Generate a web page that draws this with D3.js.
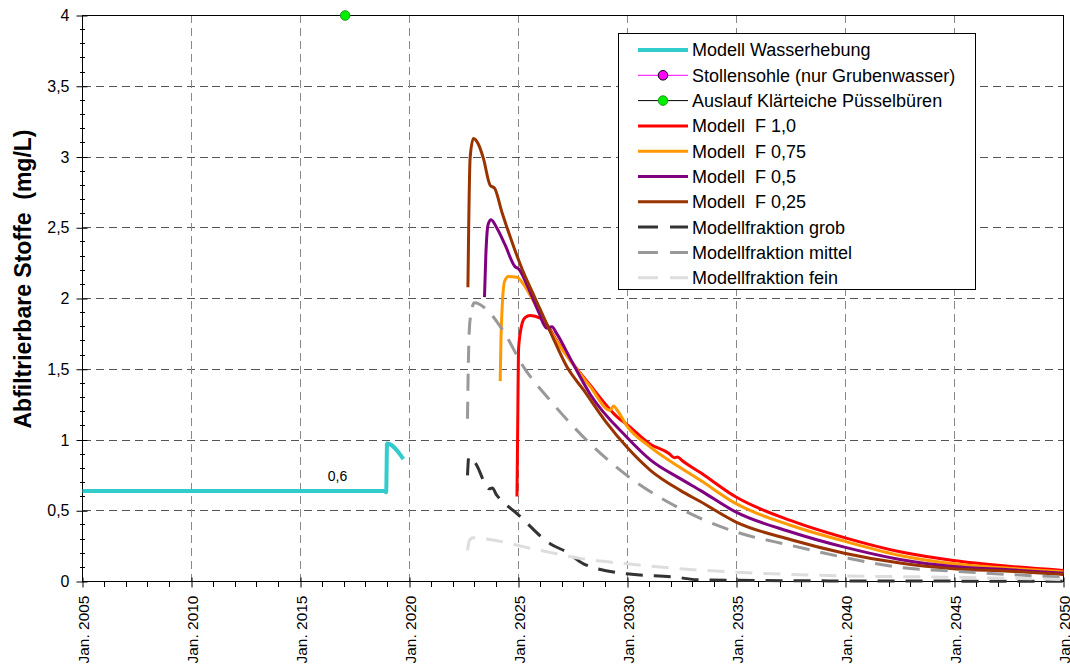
<!DOCTYPE html>
<html>
<head>
<meta charset="utf-8">
<script src="https://cdn.jsdelivr.net/npm/d3@7/dist/d3.min.js"></script>
<style>
  html, body { margin: 0; padding: 0; background: #fff; }
  svg { display: block; font-family: Arial, "Liberation Sans", sans-serif; }
</style>
</head>
<body>
<svg id="chart" width="1070" height="668"></svg>
<script>
// ---- data: [year, mg/L] ----
const wasserhebung = [[2005, 0.64], [2018.85, 0.64], [2018.93, 0.63], [2018.97, 0.975], [2019.72, 0.865]];
const stollensohle = [];
const auslauf = [[2017.05, 4.0]];

const modellF100 = [[2024.93, 0.60], [2024.97, 1.2], [2025.0, 1.64], [2025.16, 1.82], [2025.3, 1.865], [2025.54, 1.88],
  [2026.0, 1.86], [2026.38, 1.80], [2026.6, 1.74], [2027.37, 1.565], [2028.3, 1.385], [2029.2, 1.215], [2029.35, 1.19],
  [2029.55, 1.16], [2029.97, 1.11], [2031.05, 0.97], [2031.9, 0.905], [2032.15, 0.875], [2032.3, 0.88], [2032.5, 0.855],
  [2033.34, 0.77], [2034.98, 0.597], [2037.5, 0.43], [2039.95, 0.31], [2042.5, 0.21], [2044.95, 0.149], [2047.5, 0.108], [2050, 0.078]];

const modellF075 = [[2024.16, 1.416], [2024.2, 1.74], [2024.36, 2.12], [2024.54, 2.155], [2024.93, 2.15], [2025.23, 2.10],
  [2025.69, 1.98], [2026.22, 1.835], [2026.53, 1.75], [2027.37, 1.565], [2028.3, 1.375], [2029.2, 1.21], [2029.36, 1.24],
  [2029.55, 1.205], [2029.97, 1.10], [2031.05, 0.95], [2032.42, 0.805], [2033.34, 0.715], [2034.98, 0.55], [2037.5, 0.396],
  [2039.95, 0.285], [2042.5, 0.184], [2044.95, 0.125], [2047.5, 0.094], [2050, 0.068]];

const modellF050 = [[2023.44, 2.01], [2023.5, 2.3], [2023.55, 2.45], [2023.62, 2.53], [2023.74, 2.556], [2024.0, 2.50],
  [2024.38, 2.38], [2024.84, 2.225], [2025.0, 2.21], [2025.38, 2.10], [2025.92, 1.905], [2026.30, 1.79], [2026.53, 1.80],
  [2026.76, 1.75], [2027.37, 1.577], [2028.3, 1.32], [2029.97, 1.02], [2031.05, 0.86], [2032.42, 0.727], [2033.34, 0.644],
  [2034.98, 0.49], [2037.5, 0.35], [2039.95, 0.243], [2042.5, 0.156], [2044.95, 0.106], [2047.5, 0.083], [2050, 0.059]];

const modellF025 = [[2022.68, 2.08], [2022.78, 2.99], [2022.93, 3.13], [2023.16, 3.09], [2023.39, 2.99], [2023.70, 2.80],
  [2023.90, 2.78], [2024.24, 2.61], [2024.77, 2.37], [2025.16, 2.21], [2025.77, 2.00], [2026.53, 1.74], [2027.22, 1.517],
  [2028.0, 1.35], [2029.0, 1.13], [2029.97, 0.95], [2031.05, 0.786], [2032.42, 0.644], [2033.34, 0.565], [2034.98, 0.42],
  [2037.5, 0.295], [2039.95, 0.2], [2042.5, 0.13], [2044.95, 0.09], [2047.5, 0.073], [2050, 0.05]];

const fraktionGrob = [[2022.66, 0.75], [2022.72, 0.88], [2023.09, 0.82], [2023.39, 0.715], [2023.65, 0.655], [2023.8, 0.66],
  [2024.0, 0.61], [2024.24, 0.57], [2024.93, 0.48], [2026.45, 0.267], [2027.22, 0.207], [2027.98, 0.125], [2029.97, 0.054],
  [2032.27, 0.03], [2033.2, 0.012], [2040, 0.004], [2050, 0.002]];

const fraktionMittel = [[2022.66, 1.15], [2022.7, 1.55], [2022.78, 1.85], [2022.98, 1.97], [2023.55, 1.92], [2024.3, 1.77],
  [2025.23, 1.517], [2026.45, 1.28], [2028.28, 0.975], [2029.97, 0.75], [2032.42, 0.515], [2034.98, 0.35], [2037.5, 0.255],
  [2039.95, 0.17], [2042.5, 0.1], [2044.95, 0.073], [2050, 0.03]];

const fraktionFein = [[2022.66, 0.22], [2022.75, 0.29], [2022.9, 0.31], [2023.55, 0.30], [2025.69, 0.23], [2027.98, 0.16],
  [2029.97, 0.125], [2032.42, 0.09], [2034.98, 0.066], [2039.95, 0.04], [2044.95, 0.03], [2050, 0.014]];

const yearTicks = [2005, 2010, 2015, 2020, 2025, 2030, 2035, 2040, 2045, 2050];
const valueTicks = [0, 0.5, 1, 1.5, 2, 2.5, 3, 3.5, 4];
const yTitle = "Abfiltrierbare Stoffe  (mg/L)";

// ---- series definitions (drawing order) ----
const series = [
  { name: "Modell Wasserhebung", data: wasserhebung, color: "#33CCCC", width: 4 },
  { name: "Stollensohle (nur Grubenwasser)", data: stollensohle, color: "#FF00FF", width: 1, marker: "#FF00FF", markerStroke: "#000" },
  { name: "Auslauf Klärteiche Püsselbüren", data: auslauf, color: "#000000", width: 1, marker: "#00EE00", markerStroke: "#229922" },
  { name: "Modell  F 1,0", data: modellF100, color: "#FF0000", width: 3 },
  { name: "Modell  F 0,75", data: modellF075, color: "#FF9900", width: 3 },
  { name: "Modell  F 0,5", data: modellF050, color: "#800080", width: 3 },
  { name: "Modell  F 0,25", data: modellF025, color: "#993300", width: 3 },
  { name: "Modellfraktion grob", data: fraktionGrob, color: "#333333", width: 3, dash: "17,11" },
  { name: "Modellfraktion mittel", data: fraktionMittel, color: "#999999", width: 3, dash: "17,11" },
  { name: "Modellfraktion fein", data: fraktionFein, color: "#DDDDDD", width: 3, dash: "17,11" }
];

const de = d3.formatLocale({ decimal: ",", thousands: ".", grouping: [3], currency: ["", " €"] });
const fmtTick = de.format("~g");
const fmtLabel = de.format(".1f");

const svg = d3.select("#chart");
const x = d3.scaleLinear().domain([2005, 2050]).range([82.5, 1063.5]);
const y = d3.scaleLinear().domain([0, 4]).range([581.5, 15.5]);

// ---- grid ----
const grid = svg.append("g").attr("stroke", "#555").attr("stroke-width", 1).attr("stroke-dasharray", "8,5")
  .attr("shape-rendering", "crispEdges");
grid.selectAll(".gy").data(valueTicks.filter(v => v > 0 && v < 4)).join("line")
  .attr("x1", x(2005)).attr("x2", x(2050)).attr("y1", d => y(d)).attr("y2", d => y(d));
grid.selectAll(".gx").data(yearTicks.filter(v => v > 2005 && v < 2050)).join("line")
  .attr("y1", y(0)).attr("y2", y(4)).attr("x1", d => x(d)).attr("x2", d => x(d)).attr("stroke", "#888");

// ---- frame ----
svg.append("rect").attr("x", x(2005)).attr("y", y(4)).attr("width", x(2050) - x(2005)).attr("height", y(0) - y(4))
  .attr("fill", "none").attr("stroke", "#000").attr("stroke-width", 1).attr("shape-rendering", "crispEdges");

// ---- axes ----
const yAxis = svg.append("g").attr("transform", `translate(${x(2005)},0)`)
  .call(d3.axisLeft(y).tickValues(valueTicks).tickFormat(fmtTick).tickSize(6).tickPadding(7));
yAxis.select(".domain").remove();
yAxis.selectAll(".tick line").attr("x2", -6).attr("x1", 5);
yAxis.selectAll("text").attr("font-size", 16).attr("fill", "#000").attr("font-family", "Arial, 'Liberation Sans', sans-serif");
svg.append("g").attr("stroke", "#000").attr("shape-rendering", "crispEdges")
  .selectAll("line").data(d3.range(0, 41).map(i => i / 10).filter(v => Math.abs(v * 2 - Math.round(v * 2)) > 1e-6)).join("line")
  .attr("x1", x(2005) - 3).attr("x2", x(2005) + 2).attr("y1", d => y(d)).attr("y2", d => y(d));

const xAxis = svg.append("g").attr("transform", `translate(0,${y(0)})`)
  .call(d3.axisBottom(x).tickValues(yearTicks).tickFormat(d => "Jan. " + d).tickSize(6).tickPadding(8));
xAxis.select(".domain").remove();
xAxis.selectAll(".tick line").attr("y1", -4).attr("y2", 6);
xAxis.selectAll("text").attr("font-size", 15.5).attr("fill", "#000").attr("font-family", "Arial, 'Liberation Sans', sans-serif")
  .attr("transform", "rotate(-90)").attr("text-anchor", "end").attr("x", -14).attr("y", 0).attr("dy", "0.36em");
svg.append("g").attr("stroke", "#000").attr("shape-rendering", "crispEdges")
  .selectAll("line").data(d3.range(2005, 2051).filter(v => v % 5 !== 0)).join("line")
  .attr("x1", d => x(d)).attr("x2", d => x(d)).attr("y1", y(0)).attr("y2", y(0) + 5);

// ---- y title ----
svg.append("text").attr("transform", `translate(31,${279}) rotate(-90)`).attr("text-anchor", "middle")
  .attr("font-size", 23).attr("font-weight", "bold").style("white-space", "pre").text(yTitle);

// ---- lines ----
const line = d3.line().x(d => x(d[0])).y(d => y(d[1])).curve(d3.curveMonotoneX);
const lines = svg.append("g").attr("fill", "none").attr("stroke-linejoin", "round");
series.filter(s => !s.marker && s.data.length > 1).forEach(s => {
  lines.append("path").datum(s.data).attr("d", line).attr("stroke", s.color).attr("stroke-width", s.width)
    .attr("stroke-dasharray", s.dash || null);
});
series.filter(s => s.marker).forEach(s => {
  svg.append("g").selectAll("circle").data(s.data).join("circle")
    .attr("cx", d => x(d[0])).attr("cy", d => y(d[1])).attr("r", 4.8)
    .attr("fill", s.marker).attr("stroke", s.markerStroke).attr("stroke-width", 1);
});

// value label on the constant section of the pumping model
svg.append("text").attr("x", x(2016.7)).attr("y", y(wasserhebung[0][1]) - 10).attr("text-anchor", "middle")
  .attr("font-size", 14).text(fmtLabel(wasserhebung[0][1]));

// ---- legend ----
const lg = svg.append("g");
lg.append("rect").attr("x", 618.5).attr("y", 33.5).attr("width", 357).attr("height", 256)
  .attr("fill", "#fff").attr("stroke", "#000").attr("stroke-width", 1);
const rows = lg.selectAll(".row").data(series).join("g").attr("transform", (d, i) => `translate(0,${50 + i * 25.3})`);
rows.append("line").attr("x1", 638).attr("x2", 688).attr("y1", 0).attr("y2", 0)
  .attr("stroke", d => d.color).attr("stroke-width", d => d.width).attr("stroke-dasharray", d => d.dash ? "20,12" : null);
rows.filter(d => d.marker).append("circle").attr("cx", 663).attr("cy", 0).attr("r", 4.8)
  .attr("fill", d => d.marker).attr("stroke", d => d.markerStroke);
rows.append("text").attr("x", 692).attr("y", 0).attr("dy", "0.36em").attr("font-size", 18)
  .style("white-space", "pre").text(d => d.name);
</script>
</body>
</html>
